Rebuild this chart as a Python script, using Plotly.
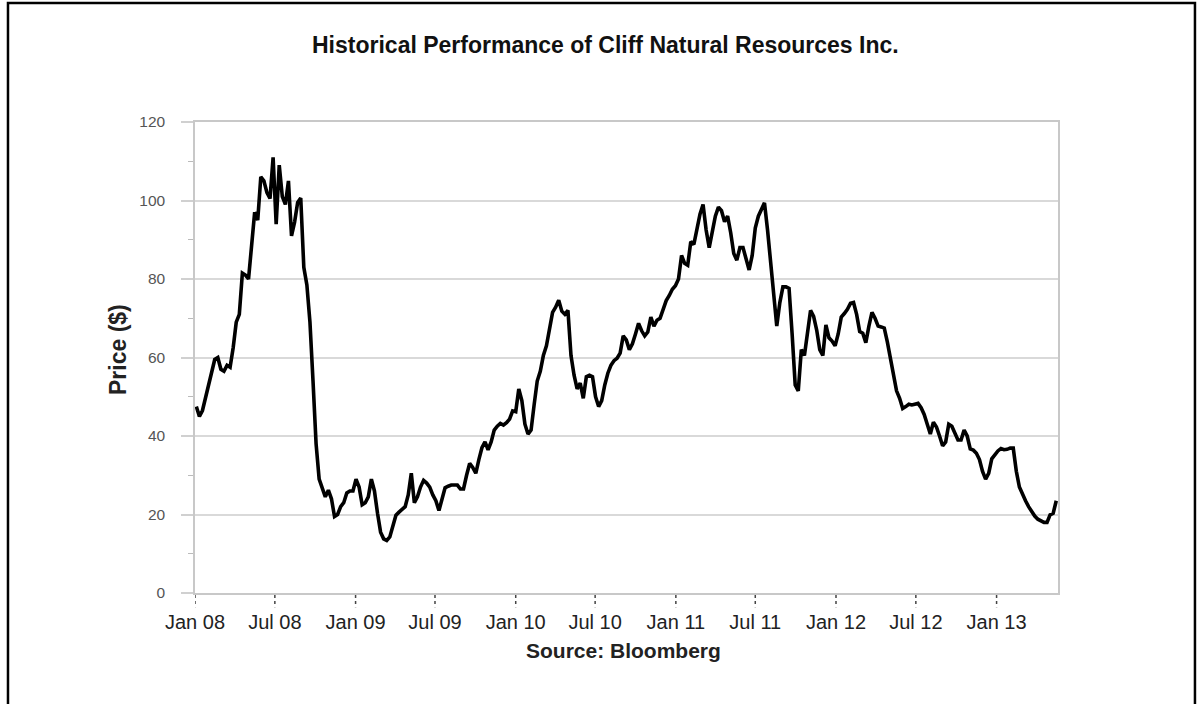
import pandas as pd
import plotly.graph_objects as go

# Weekly closing prices
start_date = "2008-01-04"
prices = [
    47.5, 45, 46.5, 50, 53, 56, 59.5, 60, 57, 56.5,
    58, 57.5, 62.5, 69, 71, 81.5, 81, 80, 88, 97,
    95, 106, 105, 102, 100.5, 111, 94, 109, 101, 99,
    105, 91, 94.5, 99.5, 100.6, 83, 78.5, 69, 54, 38,
    29, 27, 24.5, 26.2, 24, 19.5, 20, 22, 23, 25.5,
    26, 26, 29, 27, 22.5, 23, 24.5, 29, 26, 20.3,
    15.5, 13.8, 13.4, 14.3, 17.5, 19.8, 20.6, 21.2, 22, 25,
    30.5, 23, 24.5, 27, 28.7, 28, 27, 25, 23.5, 21,
    24, 26.8, 27.2, 27.5, 27.5, 27.5, 26.5, 26.5, 30, 33,
    32, 30.5, 34, 37, 38.5, 36.5, 38.5, 41.5, 42.5, 43.2,
    42.8, 43.4, 44.3, 46.4, 46.2, 52, 49, 43, 40.5, 41.5,
    48, 54, 56.5, 60.5, 63, 67.5, 71.5, 72.8, 74.6, 71.8,
    71, 72, 60.5, 55.5, 52, 53.5, 49.6, 55.1, 55.5, 55.1,
    50, 47.5, 49, 53, 56, 58, 59.2, 59.8, 61.1, 65.5,
    64.5, 62, 63.5, 66, 68.7, 66.8, 65.5, 66.5, 70.3, 68,
    69.5, 70, 72.5, 74.5, 75.8, 77.4, 78.3, 80, 86, 84,
    83.5, 89.5, 88.8, 92.5, 96.5, 99, 92.5, 88, 91.5, 96,
    98.3, 97.4, 94.6, 96, 91.8, 86.5, 84.8, 88, 88, 85.2,
    82.3, 86, 93, 96, 97.8, 99.4, 92.5, 84, 76.5, 68,
    74, 78, 78, 77.6, 66, 53, 51.5, 62, 60.5, 67,
    72, 70.5, 67, 62, 60.5, 68.3, 65, 64.2, 63, 66,
    70.3, 71.2, 72.3, 73.8, 74, 71, 66.6, 66.2, 63.8, 68,
    71.5, 70, 68, 67.8, 67.5, 64, 60, 56.5, 51.5, 49.6,
    47, 47.5, 48.1, 47.9, 48.1, 48.3, 47.2, 45.5, 43, 40.5,
    43.5, 42.3, 40, 37.5, 38.5, 43, 42.5, 40.5, 39, 39,
    41.5, 40, 36.7, 36.4, 35.6, 34, 31, 29, 30.5, 34.2,
    35.2, 36.2, 36.8, 36.5, 36.6, 36.9, 36.9, 31, 27, 25.1,
    23.5, 22, 20.7, 19.6, 18.8, 18.3, 18, 18, 19.9, 20.3,
    23.5,
]
dates = pd.date_range(start_date, periods=len(prices), freq="7D")

tick_dates = ["2008-01-01", "2008-07-01", "2009-01-01", "2009-07-01",
              "2010-01-01", "2010-07-01", "2011-01-01", "2011-07-01",
              "2012-01-01", "2012-07-01", "2013-01-01"]
tick_labels = ["Jan 08", "Jul 08", "Jan 09", "Jul 09", "Jan 10", "Jul 10",
               "Jan 11", "Jul 11", "Jan 12", "Jul 12", "Jan 13"]
y_ticks = [0, 20, 40, 60, 80, 100, 120]

title_text = "Historical Performance of Cliff Natural Resources Inc."
y_title = "Price ($)"
x_title = "Source: Bloomberg"

fig = go.Figure(go.Scatter(
    x=dates, y=prices, mode="lines",
    line=dict(color="black", width=3.6), hoverinfo="skip"))

fig.update_layout(
    width=1200, height=704,
    margin=dict(l=195, r=142, t=122, b=111),
    paper_bgcolor="white", plot_bgcolor="white", showlegend=False,
)

fig.update_xaxes(
    range=["2008-01-01", "2013-05-21"],
    tickmode="array", tickvals=tick_dates, ticktext=tick_labels,
    ticks="", showgrid=False, zeroline=False,
    showline=True, linecolor="#c8c8c8", linewidth=1.5, mirror=True,
    tickfont=dict(family="Arial, Liberation Sans, sans-serif", size=20, color="#222"),
    ticklabelstandoff=10,
)
fig.update_yaxes(
    range=[0, 120], tickmode="array", tickvals=y_ticks,
    showgrid=True, gridcolor="#d9d9d9", gridwidth=1.5, zeroline=False,
    ticks="outside", ticklen=12, tickcolor="#d0d0d0", tickwidth=1.5,
    showline=True, linecolor="#c8c8c8", linewidth=1.5, mirror=True,
    tickfont=dict(family="Arial, Liberation Sans, sans-serif", size=15.5, color="#555"),
    ticklabelstandoff=13,
    minor=dict(tickmode="linear", tick0=0, dtick=10, ticks="outside",
               ticklen=5, tickcolor="#bbbbbb", tickwidth=1.2, showgrid=False),
)

shapes = []
for d in tick_dates:
    shapes.append(dict(type="line", xref="x", yref="paper", x0=d, x1=d,
                       y0=-0.004, y1=-0.03,
                       line=dict(color="#444", width=1.5, dash="dot")))
# outer frame of the picture
shapes.append(dict(type="rect", xref="paper", yref="paper",
                   x0=-0.2167, x1=1.1587, y0=-0.26, y1=1.2527,
                   line=dict(color="black", width=2.5)))
fig.update_layout(shapes=shapes)

fig.add_annotation(text="<b>" + title_text + "</b>", xref="paper", yref="paper",
                   x=0.476, y=1.163, xanchor="center", yanchor="middle",
                   showarrow=False,
                   font=dict(family="Arial, Liberation Sans, sans-serif",
                             size=23, color="#111"))
fig.add_annotation(text="<b>" + y_title + "</b>", xref="paper", yref="paper",
                   x=-0.0892, y=0.516, xanchor="center", yanchor="middle",
                   textangle=-90, showarrow=False,
                   font=dict(family="Arial, Liberation Sans, sans-serif", size=23, color="#222"))
fig.add_annotation(text="<b>" + x_title + "</b>", xref="paper", yref="paper",
                   x=0.496, y=-0.123, xanchor="center", yanchor="middle",
                   showarrow=False,
                   font=dict(family="Arial, Liberation Sans, sans-serif", size=21, color="#222"))

fig.write_html("out.html", config={"displayModeBar": False},
               post_script="document.body.style.margin='0';")
